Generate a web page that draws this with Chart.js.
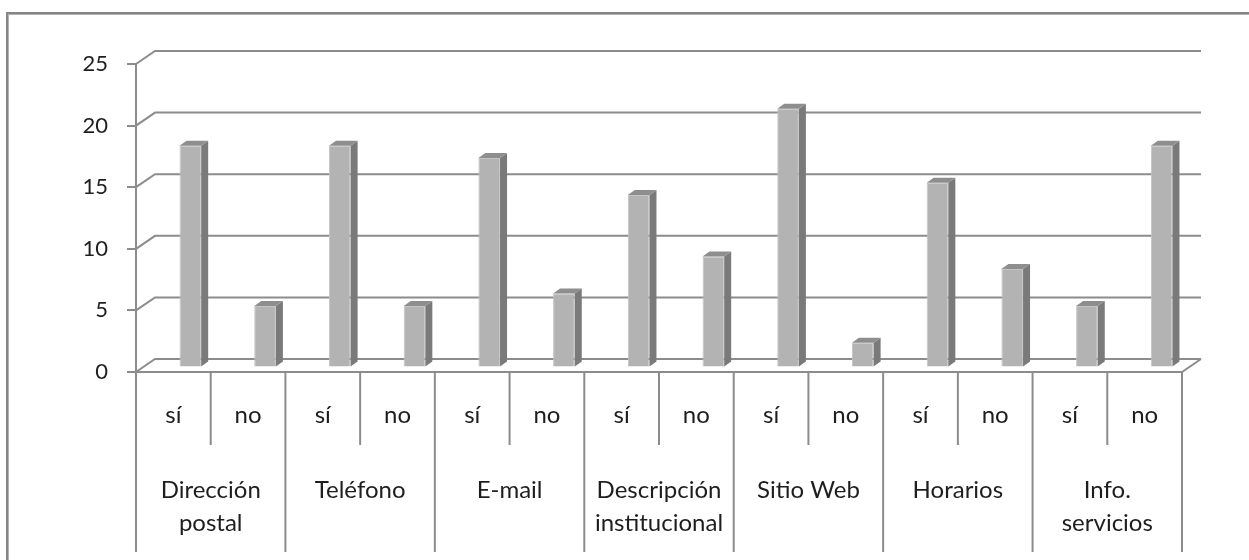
<!DOCTYPE html>
<html>
<head>
<meta charset="utf-8">
<script src="https://cdn.jsdelivr.net/npm/chart.js@4.4.0/dist/chart.umd.min.js"></script>
<style>
  html, body { margin: 0; padding: 0; background: #fff; }
  #wrap { position: relative; width: 1249px; height: 560px; overflow: hidden; }
  #frame {
    position: absolute; left: 6px; top: 12px; width: 1300px; height: 600px;
    border-left: 2px solid #858585; border-top: 2px solid #858585;
    box-shadow: inset 1px 1px 0 #b4b4b4;
  }
  canvas { position: absolute; left: 0; top: 0; }
</style>
</head>
<body>
<div id="wrap">
  <div id="frame"></div>
  <canvas id="chart" width="1249" height="560"></canvas>
</div>
<script>
const subLabels = ['sí', 'no', 'sí', 'no', 'sí', 'no', 'sí', 'no', 'sí', 'no', 'sí', 'no', 'sí', 'no'];
const groupLabels = [
  ['Dirección', 'postal'],
  'Teléfono',
  'E-mail',
  ['Descripción', 'institucional'],
  'Sitio Web',
  'Horarios',
  ['Info.', 'servicios'],
];
const values = [18, 5, 18, 5, 17, 6, 14, 9, 21, 2, 15, 8, 5, 18];
const yTickValues = [0, 5, 10, 15, 20, 25];

const lineColor = '#8c8c8c';
const textColor = '#1e1e1e';
const wall = { dx: 19, dy: -13 };     // back wall offset
const barShift = { dx: 17, dy: -4.5 }; // bars sit in the middle of the depth
const barDepth = { dx: 7, dy: -5 };

const box3d = {
  id: 'box3d',
  beforeDatasetsDraw(chart) {
    const { ctx, chartArea: a, scales: { y } } = chart;
    ctx.save();
    ctx.strokeStyle = lineColor;
    ctx.lineWidth = 2;
    // back wall gridlines with the side-wall diagonal
    yTickValues.forEach((v) => {
      const py = y.getPixelForValue(v);
      ctx.beginPath();
      ctx.moveTo(a.left, py);
      ctx.lineTo(a.left + wall.dx, py + wall.dy);
      ctx.lineTo(a.right + wall.dx, py + wall.dy);
      ctx.stroke();
    });
    // floor
    const py0 = y.getPixelForValue(0);
    ctx.beginPath();
    ctx.moveTo(a.right + wall.dx, py0 + wall.dy);
    ctx.lineTo(a.right, py0);
    ctx.lineTo(a.left, py0);
    ctx.stroke();
    ctx.restore();

    ctx.save();
    ctx.translate(barShift.dx, barShift.dy);
  },
  afterDatasetsDraw(chart) {
    const { ctx } = chart;
    const meta = chart.getDatasetMeta(0);
    meta.data.forEach((bar) => {
      const { x, y, base, width } = bar.getProps(['x', 'y', 'base', 'width'], true);
      const l = x - width / 2;
      const r = x + width / 2;
      // side face
      ctx.fillStyle = '#7a7a7a';
      ctx.beginPath();
      ctx.moveTo(r, y);
      ctx.lineTo(r + barDepth.dx, y + barDepth.dy);
      ctx.lineTo(r + barDepth.dx, base + barDepth.dy);
      ctx.lineTo(r, base);
      ctx.closePath();
      ctx.fill();
      // top face
      ctx.fillStyle = '#8e8e8e';
      ctx.beginPath();
      ctx.moveTo(l, y);
      ctx.lineTo(l + barDepth.dx, y + barDepth.dy);
      ctx.lineTo(r + barDepth.dx, y + barDepth.dy);
      ctx.lineTo(r, y);
      ctx.closePath();
      ctx.fill();
    });
    ctx.restore();
  },
  afterDraw(chart) {
    const { ctx, chartArea: a, scales: { x, x2 } } = chart;
    ctx.save();
    ctx.strokeStyle = lineColor;
    ctx.lineWidth = 2;
    for (let i = 0; i <= subLabels.length; i++) {
      let px;
      if (i === 0) px = a.left;
      else if (i === subLabels.length) px = a.right;
      else px = (x.getPixelForValue(i - 1) + x.getPixelForValue(i)) / 2;
      const bottom = i % 2 === 0 ? x2.bottom - 8 : x.bottom + 3;
      ctx.beginPath();
      ctx.moveTo(px, a.bottom);
      ctx.lineTo(px, bottom);
      ctx.stroke();
    }
    ctx.restore();
  },
};

new Chart(document.getElementById('chart'), {
  type: 'bar',
  data: {
    labels: subLabels,
    datasets: [{
      data: values,
      backgroundColor: '#b3b3b3',
      borderColor: '#c4c4c4',
      borderWidth: 1,
      barPercentage: 0.29,
      categoryPercentage: 1,
      clip: false,
    }],
  },
  options: {
    responsive: false,
    animation: false,
    devicePixelRatio: 1,
    layout: { padding: { left: 0, top: 64, right: 67, bottom: 0 } },
    plugins: { legend: { display: false }, tooltip: { enabled: false } },
    scales: {
      x: {
        position: 'bottom',
        weight: 0,
        offset: true,
        grid: { display: false, drawTicks: false },
        border: { display: false },
        ticks: {
          autoSkip: false, maxRotation: 0, padding: 29,
          color: textColor, font: { family: 'Lato', size: 24, lineHeight: 1.2 },
        },
        afterFit(s) { s.height = 70; },
      },
      x2: {
        type: 'category',
        labels: groupLabels,
        position: 'bottom',
        weight: 1,
        offset: true,
        grid: { display: false, drawTicks: false },
        border: { display: false },
        ticks: {
          autoSkip: false, maxRotation: 0, padding: 31,
          color: textColor, font: { family: 'Lato', size: 24, lineHeight: 1.4 },
        },
        afterFit(s) { s.height = 118; },
      },
      y: {
        min: 0,
        max: 25,
        afterBuildTicks(s) { s.ticks = yTickValues.map((v) => ({ value: v })); },
        grid: { drawOnChartArea: false, tickLength: 9, color: lineColor, lineWidth: 2 },
        border: { color: lineColor, width: 2 },
        ticks: { padding: 19, color: textColor, font: { family: 'Lato', size: 22 } },
        afterFit(s) { s.width = 136; },
      },
    },
  },
  plugins: [box3d],
});
</script>
</body>
</html>
